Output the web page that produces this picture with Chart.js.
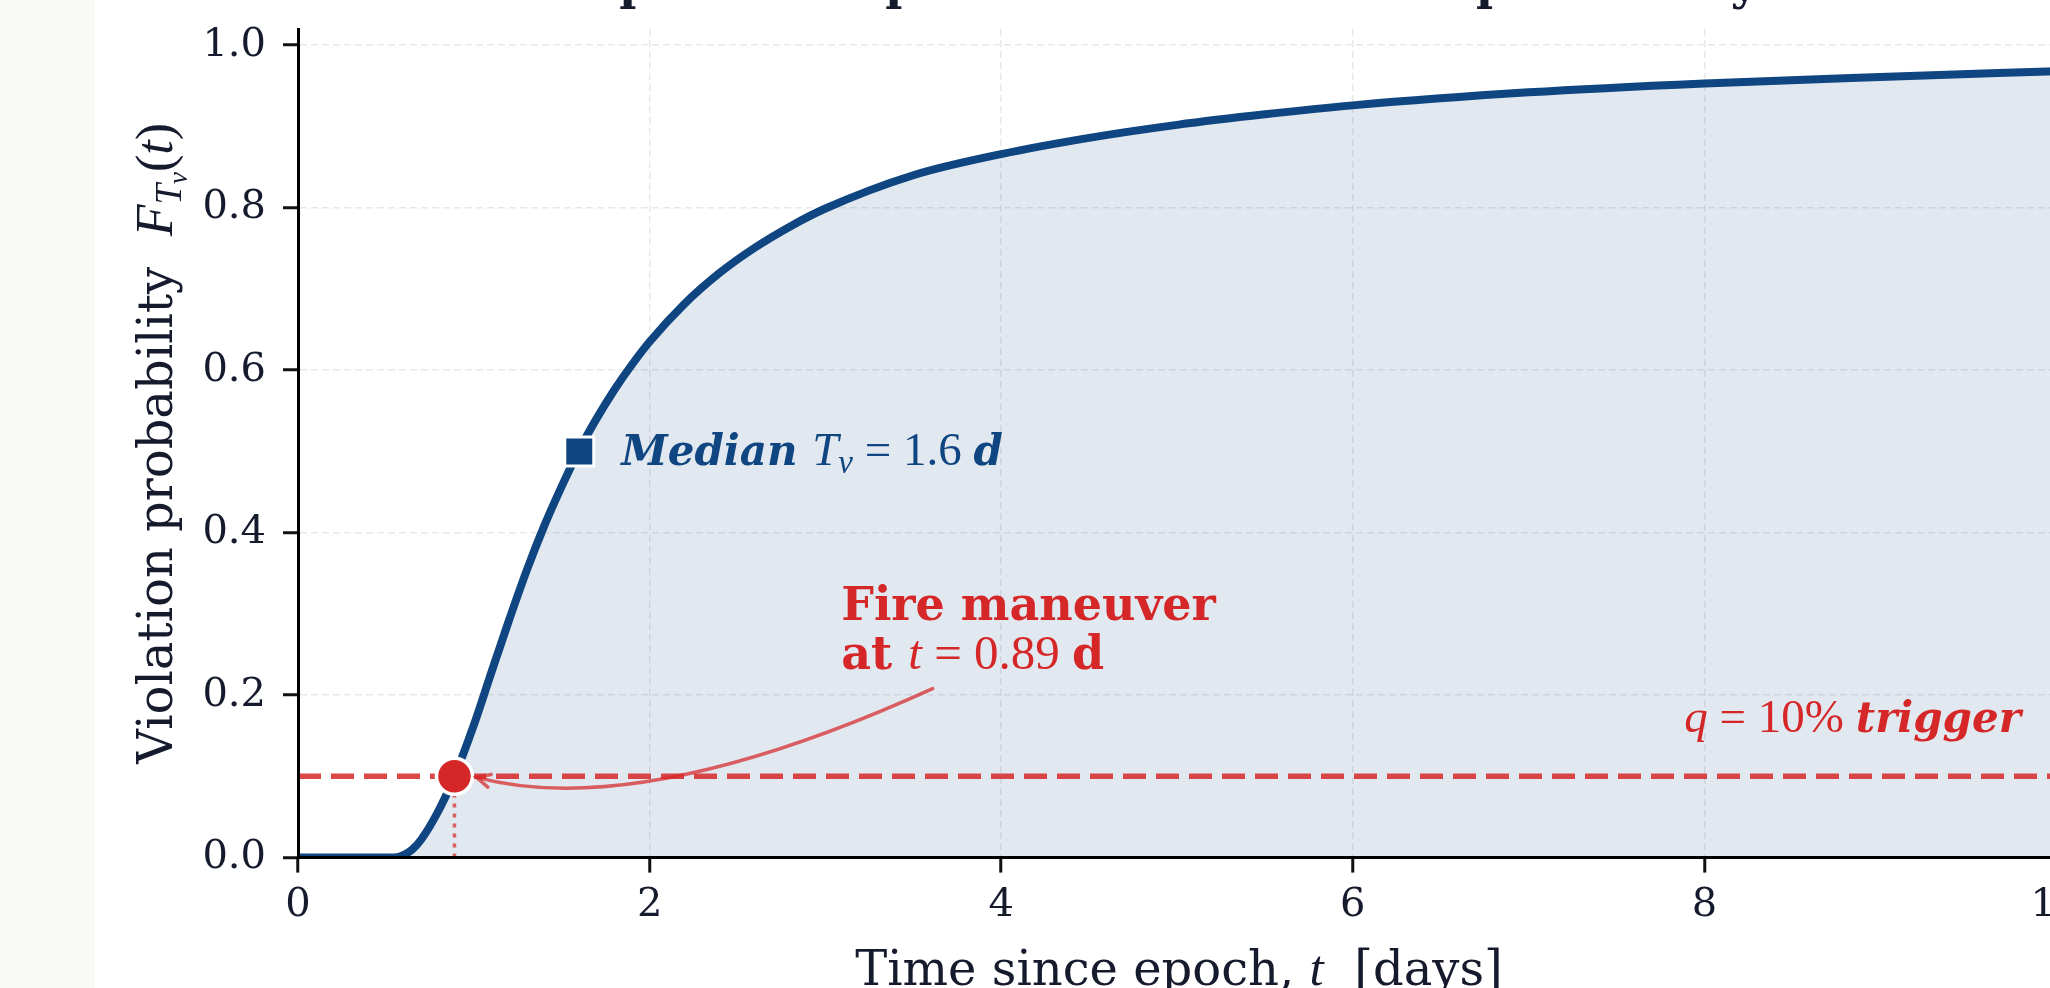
<!DOCTYPE html>
<html>
<head>
<meta charset="utf-8">
<title>Violation-time CDF</title>
<script src="https://cdn.jsdelivr.net/npm/chart.js@4.4.1/dist/chart.umd.min.js"></script>
<style>
  html, body { margin: 0; padding: 0; overflow: hidden; background: #ffffff; }
  #wrap { position: relative; width: 2050px; height: 988px; overflow: hidden; }
  canvas { display: block; }
</style>
</head>
<body>
<div id="wrap"><canvas id="cdf" width="2100" height="988" style="width:2100px;height:988px"></canvas></div>
<script>
// values
const T_DAYS = [0, 0.55, 0.6, 0.65, 0.7, 0.8, 0.89, 1.0, 1.1, 1.2, 1.3, 1.4, 1.5, 1.6, 1.7, 1.8, 1.9,
                2.0, 2.2, 2.4, 2.6, 2.8, 3.0, 3.5, 4.0, 4.5, 5.0, 5.5, 6.0, 7.0, 8.0, 9.0, 10.0];
const F_TV   = [0, 0, 0.003, 0.010, 0.022, 0.058, 0.100, 0.163, 0.228, 0.292, 0.353, 0.408, 0.457, 0.502, 0.541, 0.576, 0.607,
                0.635, 0.682, 0.720, 0.751, 0.777, 0.799, 0.840, 0.866, 0.886, 0.902, 0.915, 0.926, 0.942, 0.953, 0.961, 0.968];
const X_TICKS = [0, 2, 4, 6, 8, 10];
const Y_TICKS = [0, 0.2, 0.4, 0.6, 0.8, 1.0];
const X_RANGE = [0, 10];
const Y_RANGE = [0, 1.02];
const Q_TRIGGER = 0.10;   // q = 10% trigger level
const T_FIRE = 0.89;      // day where the CDF crosses q
const T_MEDIAN = 1.6;
const F_MEDIAN = 0.5;

const TITLE = 'Temporal risk profile of the violation probability';

const NAVY = '#0f4580';
const RED = '#d62728';
const INK = '#151a2d';
const GRID = 'rgba(0,0,0,0.09)';
const SERIF = '"DejaVu Serif", serif';
const MATH = '"Liberation Serif", "Times New Roman", serif';

// draw a row of differently styled text pieces
function runs(ctx, list, x, y, align) {
    let w = 0;
    list.forEach(r => { ctx.font = r.f; r.w = ctx.measureText(r.t).width; w += r.w; });
    let cx = align === 'center' ? x - w / 2 : (align === 'right' ? x - w : x);
    list.forEach(r => {
        ctx.font = r.f;
        ctx.fillText(r.t, cx, y + (r.dy || 0));
        cx += r.w;
    });
}

const paper = {
    id: 'paper',
    beforeDraw(chart) {
        const ctx = chart.ctx;
        ctx.save();
        ctx.fillStyle = '#ffffff';
        ctx.fillRect(0, 0, chart.width, chart.height);
        ctx.fillStyle = '#f9faf6';
        ctx.fillRect(0, 0, 95, chart.height);
        ctx.restore();
    }
};

const notes = {
    id: 'notes',
    afterDraw(chart) {
        const { ctx, scales: { x, y } } = chart;
        const px = v => x.getPixelForValue(v);
        const py = v => y.getPixelForValue(v);
        ctx.save();
        ctx.textAlign = 'left';
        ctx.textBaseline = 'alphabetic';

        // title sits above the frame, only the descenders show
        ctx.fillStyle = INK;
        runs(ctx, [{ t: TITLE, f: `bold 46px ${SERIF}` }], 1135, -1, 'center');

        // median marker label
        ctx.fillStyle = NAVY;
        runs(ctx, [
            { t: 'Median ', f: `italic bold 42px ${SERIF}` },
            { t: 'T', f: `italic 47px ${MATH}` },
            { t: 'v', f: `italic 33px ${MATH}`, dy: 8 },
            { t: ' = 1.6 ', f: `47px ${MATH}` },
            { t: 'd', f: `italic bold 42px ${SERIF}` }
        ], px(T_MEDIAN) + 42, py(F_MEDIAN) + 14, 'left');

        // fire label
        ctx.fillStyle = RED;
        const fx = px(3.09), fy = py(0.293);
        runs(ctx, [{ t: 'Fire maneuver', f: `bold 46px ${SERIF}` }], fx, fy, 'left');
        runs(ctx, [
            { t: 'at ', f: `bold 46px ${SERIF}` },
            { t: 't', f: `italic 49px ${MATH}` },
            { t: ' = 0.89 ', f: `49px ${MATH}` },
            { t: 'd', f: `bold 46px ${SERIF}` }
        ], fx, fy + 49, 'left');

        // curved arrow to the crossing point
        const sx = px(3.61), sy = py(0.208);
        const ex = px(T_FIRE) + 22, ey = py(Q_TRIGGER) + 1;
        const cx = px(1.95), cy = py(0.045);
        ctx.strokeStyle = 'rgba(214,39,40,0.72)';
        ctx.lineWidth = 3.5;
        ctx.lineCap = 'round';
        ctx.beginPath();
        ctx.moveTo(sx, sy);
        ctx.quadraticCurveTo(cx, cy, ex, ey);
        ctx.stroke();
        const ang = Math.atan2(ey - cy, ex - cx);
        const hl = 15, ha = 0.45;
        ctx.beginPath();
        ctx.moveTo(ex - hl * Math.cos(ang - ha), ey - hl * Math.sin(ang - ha));
        ctx.lineTo(ex, ey);
        ctx.lineTo(ex - hl * Math.cos(ang + ha), ey - hl * Math.sin(ang + ha));
        ctx.stroke();

        // trigger label
        ctx.fillStyle = RED;
        runs(ctx, [
            { t: 'q', f: `italic 47px ${MATH}` },
            { t: ' = 10% ', f: `47px ${MATH}` },
            { t: 'trigger', f: `italic bold 42px ${SERIF}` }
        ], px(9.8), py(0.155), 'right');

        // axis titles
        ctx.fillStyle = INK;
        runs(ctx, [
            { t: 'Time since epoch, ', f: `48px ${SERIF}` },
            { t: 't', f: `italic 51px ${MATH}` },
            { t: '  [days]', f: `48px ${SERIF}` }
        ], 1179, 985, 'center');

        ctx.translate(172, (chart.chartArea.top + chart.chartArea.bottom) / 2);
        ctx.rotate(-Math.PI / 2);
        runs(ctx, [
            { t: 'Violation probability  ', f: `48px ${SERIF}` },
            { t: 'F', f: `italic 52px ${MATH}` },
            { t: 'T', f: `italic 37px ${MATH}`, dy: 9 },
            { t: 'v', f: `italic 27px ${MATH}`, dy: 15 },
            { t: '(', f: `52px ${MATH}` },
            { t: 't', f: `italic 52px ${MATH}` },
            { t: ')', f: `52px ${MATH}` }
        ], 0, 0, 'center');
        ctx.restore();
    }
};

const tickFont = { family: SERIF, size: 40 };

new Chart(document.getElementById('cdf'), {
    type: 'line',
    data: {
        datasets: [
            {
                label: 'fire point',
                data: [{ x: T_FIRE, y: Q_TRIGGER }],
                showLine: false,
                pointRadius: 18,
                pointBackgroundColor: RED,
                pointBorderColor: '#ffffff',
                pointBorderWidth: 3.5,
                clip: false,
                order: 0
            },
            {
                label: 'median point',
                data: [{ x: T_MEDIAN, y: F_MEDIAN }],
                showLine: false,
                pointStyle: 'rect',
                pointRadius: 20.5,
                pointBackgroundColor: NAVY,
                pointBorderColor: '#ffffff',
                pointBorderWidth: 3,
                clip: false,
                order: 1
            },
            {
                label: 'trigger',
                data: [{ x: X_RANGE[0], y: Q_TRIGGER }, { x: X_RANGE[1], y: Q_TRIGGER }],
                borderColor: 'rgba(214,39,40,0.85)',
                borderWidth: 5.5,
                borderDash: [23, 10],
                pointRadius: 0,
                fill: false,
                order: 2
            },
            {
                label: 'drop',
                data: [{ x: T_FIRE, y: 0 }, { x: T_FIRE, y: Q_TRIGGER }],
                borderColor: 'rgba(214,39,40,0.7)',
                borderWidth: 3.5,
                borderDash: [4, 6],
                pointRadius: 0,
                fill: false,
                order: 2
            },
            {
                label: 'F_Tv',
                data: T_DAYS.map((t, i) => ({ x: t, y: F_TV[i] })),
                borderColor: NAVY,
                borderWidth: 8,
                backgroundColor: 'rgba(15,69,128,0.125)',
                fill: 'origin',
                pointRadius: 0,
                cubicInterpolationMode: 'monotone',
                clip: 0,
                order: 3
            }
        ]
    },
    options: {
        responsive: false,
        devicePixelRatio: 1,
        animation: false,
        events: [],
        layout: { padding: { left: 0, right: 44, top: 29, bottom: 0 } },
        plugins: {
            legend: { display: false },
            tooltip: { enabled: false }
        },
        scales: {
            x: {
                type: 'linear',
                min: X_RANGE[0],
                max: X_RANGE[1],
                afterBuildTicks: s => { s.ticks = X_TICKS.map(v => ({ value: v })); },
                afterFit: s => { s.height = 130.4; s.paddingLeft = 0; s.paddingRight = 0; },
                ticks: {
                    color: INK, font: tickFont, padding: 9, autoSkip: false,
                    maxRotation: 0, includeBounds: false, callback: v => String(v)
                },
                grid: { color: GRID, lineWidth: 1.5, tickLength: 15, tickWidth: 3, tickColor: '#111111' },
                border: { display: true, color: '#000000', width: 3, dash: [7, 4], z: 1 }
            },
            y: {
                type: 'linear',
                min: Y_RANGE[0],
                max: Y_RANGE[1],
                afterBuildTicks: s => { s.ticks = Y_TICKS.map(v => ({ value: v })); },
                afterFit: s => { s.width = 298; s.paddingTop = 0; s.paddingBottom = 0; },
                ticks: {
                    color: INK, font: tickFont, padding: 17, autoSkip: false,
                    includeBounds: false, callback: v => v.toFixed(1)
                },
                grid: { color: GRID, lineWidth: 1.5, tickLength: 15, tickWidth: 3, tickColor: '#111111' },
                border: { display: true, color: '#000000', width: 3, dash: [7, 4], z: 1 }
            }
        }
    },
    plugins: [paper, notes]
});
</script>
</body>
</html>
